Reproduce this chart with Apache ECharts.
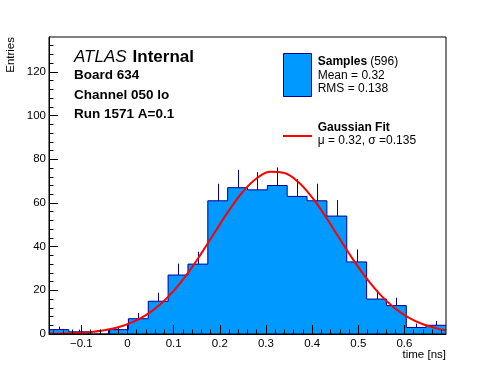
<!DOCTYPE html>
<html><head><meta charset="utf-8">
<script src="https://cdn.jsdelivr.net/npm/echarts@6/dist/echarts.min.js"></script>
<style>html,body{margin:0;padding:0;background:#fff}#c{width:496px;height:372px}</style>
</head><body><div id="c"></div>
<script>
const binEdges = [-0.17,-0.127,-0.084,-0.041,0.002,0.045,0.088,0.131,0.174,0.217,0.26,0.303,0.346,0.389,0.432,0.475,0.518,0.561,0.604,0.647,0.69];
const counts = [2,1,0,2,7,15,27,32,61,67,66,68,63,61,54,33,16,13,3,4];
const errors = [1.41,1,0,1.41,2.65,3.87,5.2,5.66,7.81,8.19,8.12,8.25,7.94,7.81,7.35,5.74,4,3.61,1.73,2];
const fitX = [-0.17,-0.14,-0.11,-0.08,-0.05,-0.02,0.01,0.04,0.07,0.10,0.13,0.16,0.19,0.22,0.25,0.28,0.31,0.34,0.37,0.40,0.43,0.46,0.49,0.52,0.55,0.58,0.61,0.64,0.67,0.69];
const fitY = [0.10,0.22,0.47,0.93,1.74,3.13,5.34,8.67,13.41,19.75,27.67,36.91,46.86,56.63,65.13,71.30,74.30,73.69,69.56,62.51,53.45,43.51,33.71,24.86,17.45,11.66,7.42,4.49,2.59,1.74];
const xMajorTicks = [-0.1,0,0.1,0.2,0.3,0.4,0.5,0.6];
const xMinorTicks = [-0.16,-0.14,-0.12,-0.1,-0.08,-0.06,-0.04,-0.02,0,0.02,0.04,0.06,0.08,0.1,0.12,0.14,0.16,0.18,0.2,0.22,0.24,0.26,0.28,0.3,0.32,0.34,0.36,0.38,0.4,0.42,0.44,0.46,0.48,0.5,0.52,0.54,0.56,0.58,0.6,0.62,0.64,0.66,0.68];
const yMajorTicks = [0,20,40,60,80,100,120];
const yMinorTicks = [4,8,12,16,24,28,32,36,44,48,52,56,64,68,72,76,84,88,92,96,104,108,112,116,124,128,132];

const FONT = '"Liberation Sans", Arial, sans-serif';
const FILL = '#0099ff';
const EDGE = '#000099';

const stepData = binEdges.map((e, i) => [e, counts[Math.min(i, counts.length - 1)]]);
const errData = counts.map((c, i) => [(binEdges[i] + binEdges[i + 1]) / 2, c, errors[i]]);
const fitData = fitX.map((x, i) => [x, fitY[i]]);

const chart = echarts.init(document.getElementById('c'), null, {renderer: 'canvas'});
const xFmt = v => (v < 0 ? '\u2212' + Math.abs(v) : String(v));

chart.setOption({
  animation: false,
  textStyle: {fontFamily: FONT},
  grid: {left: 49, right: 50, top: 37, bottom: 38, show: true, borderColor: '#000', borderWidth: 1,
         backgroundColor: 'transparent', containLabel: false, outerBoundsMode: 'none', z: 10},
  xAxis: [
    {type: 'value', min: -0.17, max: 0.69, position: 'bottom', z: 10,
     axisLine: {show: true, onZero: false, lineStyle: {color: '#000', width: 1}},
     axisTick: {show: true, inside: true, length: 9, customValues: xMajorTicks, lineStyle: {color: '#000'}},
     axisLabel: {show: true, customValues: xMajorTicks, formatter: xFmt, color: '#000', fontSize: 11.5, margin: 4, fontFamily: FONT},
     splitLine: {show: false}},
    {type: 'value', min: -0.17, max: 0.69, position: 'bottom', z: 10,
     axisLine: {show: false, onZero: false},
     axisTick: {show: true, inside: true, length: 4.5, customValues: xMinorTicks, lineStyle: {color: '#000'}},
     axisLabel: {show: false}, splitLine: {show: false}}
  ],
  yAxis: [
    {type: 'value', min: 0, max: 136, position: 'left', z: 10,
     axisLine: {show: true, onZero: false, lineStyle: {color: '#000', width: 1}},
     axisTick: {show: true, inside: true, length: 9, customValues: yMajorTicks, lineStyle: {color: '#000'}},
     axisLabel: {show: true, customValues: yMajorTicks, color: '#000', fontSize: 11.5, margin: 3, fontFamily: FONT},
     splitLine: {show: false}},
    {type: 'value', min: 0, max: 136, position: 'left', z: 10,
     axisLine: {show: false, onZero: false},
     axisTick: {show: true, inside: true, length: 4.5, customValues: yMinorTicks, lineStyle: {color: '#000'}},
     axisLabel: {show: false}, splitLine: {show: false}}
  ],
  series: [
    {type: 'line', name: 'Samples', xAxisIndex: 0, yAxisIndex: 0, data: stepData, step: 'end',
     showSymbol: false, symbol: 'none', z: 2,
     lineStyle: {color: EDGE, width: 1}, areaStyle: {color: FILL, opacity: 1}},
    {type: 'custom', name: 'err', xAxisIndex: 0, yAxisIndex: 0, data: errData, z: 3,
     encode: {x: 0, y: 1},
     renderItem: function (params, api) {
       const c = api.value(0), v = api.value(1), e = api.value(2);
       if (!(e > 0)) return null;
       const p0 = api.coord([c, v]);
       const p1 = api.coord([c, v + e]);
       const x = Math.round(p0[0]) + 0.5;
       return {type: 'line', shape: {x1: x, y1: p0[1], x2: x, y2: p1[1]},
               style: {stroke: EDGE, lineWidth: 1}};
     }},
    {type: 'line', name: 'Gaussian Fit', xAxisIndex: 0, yAxisIndex: 0, data: fitData, smooth: 0.4,
     showSymbol: false, symbol: 'none', z: 5,
     lineStyle: {color: '#ff0000', width: 2}}
  ],
  graphic: [
    {type: 'text', x: 11, y: 37, rotation: Math.PI / 2,
     style: {text: 'Entries', font: '11.5px ' + FONT, fill: '#000', textAlign: 'right', textVerticalAlign: 'middle'}},
    {type: 'text', x: 446, y: 355,
     style: {text: 'time [ns]', font: '11.5px ' + FONT, fill: '#000', textAlign: 'right', textVerticalAlign: 'middle'}},
    {type: 'text', x: 74, y: 57.5,
     style: {text: 'ATLAS', font: 'italic 17px ' + FONT, fill: '#000', textAlign: 'left', textVerticalAlign: 'middle'}},
    {type: 'text', x: 132.6, y: 57.5,
     style: {text: 'Internal', font: 'bold 17px ' + FONT, fill: '#000', textAlign: 'left', textVerticalAlign: 'middle'}},
    {type: 'text', x: 74, y: 75,
     style: {text: 'Board 634', font: 'bold 13.5px ' + FONT, fill: '#000', textAlign: 'left', textVerticalAlign: 'middle'}},
    {type: 'text', x: 74, y: 95,
     style: {text: 'Channel 050 lo', font: 'bold 13.5px ' + FONT, fill: '#000', textAlign: 'left', textVerticalAlign: 'middle'}},
    {type: 'text', x: 74, y: 114,
     style: {text: 'Run 1571 A=0.1', font: 'bold 13.5px ' + FONT, fill: '#000', textAlign: 'left', textVerticalAlign: 'middle'}},
    {type: 'rect', shape: {x: 283.5, y: 53.5, width: 28, height: 43},
     style: {fill: FILL, stroke: EDGE, lineWidth: 1}},
    {type: 'text', x: 317.7, y: 61.5,
     style: {text: 'Samples', font: 'bold 12px ' + FONT, fill: '#000', textAlign: 'left', textVerticalAlign: 'middle'}},
    {type: 'text', x: 370.2, y: 61.5,
     style: {text: '(596)', font: '12px ' + FONT, fill: '#000', textAlign: 'left', textVerticalAlign: 'middle'}},
    {type: 'text', x: 317.7, y: 75.8,
     style: {text: 'Mean = 0.32', font: '12px ' + FONT, fill: '#000', textAlign: 'left', textVerticalAlign: 'middle'}},
    {type: 'text', x: 317.7, y: 89,
     style: {text: 'RMS = 0.138', font: '12px ' + FONT, fill: '#000', textAlign: 'left', textVerticalAlign: 'middle'}},
    {type: 'line', shape: {x1: 283, y1: 136, x2: 312, y2: 136},
     style: {stroke: '#ff0000', lineWidth: 2}},
    {type: 'text', x: 317.7, y: 128,
     style: {text: 'Gaussian Fit', font: 'bold 12px ' + FONT, fill: '#000', textAlign: 'left', textVerticalAlign: 'middle'}},
    {type: 'text', x: 317.7, y: 141,
     style: {text: '\u03bc = 0.32, \u03c3 =0.135', font: '12px ' + FONT, fill: '#000', textAlign: 'left', textVerticalAlign: 'middle'}}
  ]
});
</script>
</body></html>
